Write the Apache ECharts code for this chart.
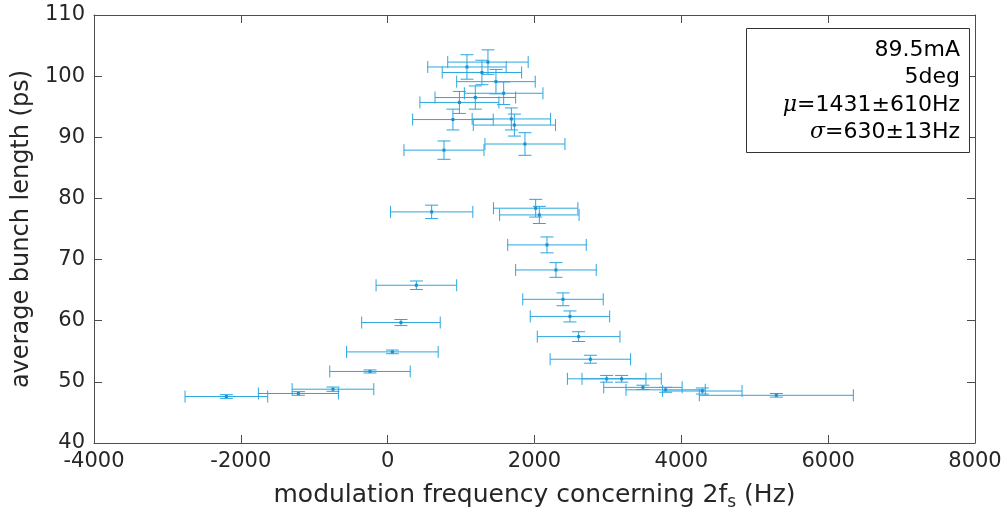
<!DOCTYPE html>
<html>
<head>
<meta charset="utf-8">
<script src="https://cdn.jsdelivr.net/npm/echarts@6/dist/echarts.min.js"></script>
<style>
html,body{margin:0;padding:0;background:#fff;}
#chart{width:1007px;height:518px;}
</style>
</head>
<body>
<div id="chart"></div>
<script>
// modulation frequency (Hz)
var freq = [1366, 1080, 1284, 1475, 1580, 1194, 977, 889, 1685, 1726, 767, 1870,
  599, 2016, 2066, 2170, 2292, 391, 2388, 181, 64, -241, -745, -1216, -2197,
  2483, 2601, 2761, 2983, 3187, 3477, 3786, 4286, 5294];
// average bunch length (ps)
var bunchLength = [102.3, 101.5, 100.6, 99.1, 97.2, 96.5, 95.7, 92.9, 93.0, 92.0, 87.9, 88.9,
  77.8, 78.4, 77.3, 72.4, 68.3, 65.8, 63.5, 59.7, 54.9, 51.7, 48.8, 48.1, 47.6,
  60.7, 57.4, 53.7, 50.5, 50.5, 49.1, 48.7, 48.5, 47.8];
// horizontal error (Hz)
var freqErr = [548, 534, 541, 535, 535, 549, 538, 549, 534, 560, 545, 545,
  561, 575, 541, 535, 549, 549, 548, 535, 624, 548, 556, 545, 563,
  541, 563, 548, 535, 540, 534, 540, 541, 1049];
// vertical error (ps)
var lengthErr = [2.0, 2.0, 2.0, 2.0, 1.85, 1.9, 1.8, 1.7, 1.8, 1.8, 1.5, 1.85,
  1.1, 1.45, 1.4, 1.3, 1.2, 0.7, 1.05, 0.5, 0.3, 0.25, 0.35, 0.3, 0.3,
  0.9, 0.8, 0.65, 0.55, 0.55, 0.35, 0.4, 0.5, 0.3];
var xTicks = {min: -4000, max: 8000, step: 2000};
var yTicks = {min: 40, max: 110, step: 10};
var infoLines = ['89.5mA', '5deg', '{it|μ}=1431±610Hz', '{it|σ}=630±13Hz'];

var COLOR = '#2aa6e0';
var AXC = '#4d4d4d';
var TXT = '#262626';
var FONT = 'DejaVu Sans';

var data = freq.map(function (x, i) { return [x, bunchLength[i], freqErr[i], lengthErr[i]]; });

function renderItem(params, api) {
  var x = api.value(0), y = api.value(1), ex = api.value(2), ey = api.value(3);
  var c = api.coord([x, y]);
  var l = api.coord([x - ex, y]);
  var r = api.coord([x + ex, y]);
  var t = api.coord([x, y + ey]);
  var b = api.coord([x, y - ey]);
  var capH = 6, capW = 6.5;
  var st = {stroke: COLOR, lineWidth: 1, fill: null};
  function line(x1, y1, x2, y2) {
    return {type: 'line', shape: {x1: x1, y1: y1, x2: x2, y2: y2}, style: st};
  }
  return {
    type: 'group',
    children: [
      line(l[0], c[1], r[0], c[1]),
      line(l[0], c[1] - capH, l[0], c[1] + capH),
      line(r[0], c[1] - capH, r[0], c[1] + capH),
      line(c[0], t[1], c[0], b[1]),
      line(c[0] - capW, t[1], c[0] + capW, t[1]),
      line(c[0] - capW, b[1], c[0] + capW, b[1]),
      {type: 'rect', shape: {x: c[0] - 1.5, y: c[1] - 1.5, width: 3, height: 3}, style: {fill: '#1a8fd0'}}
    ]
  };
}

var chart = echarts.init(document.getElementById('chart'), null, {renderer: 'canvas'});

var baseAxis = {
  type: 'value',
  axisLine: {show: true, onZero: false, lineStyle: {color: AXC, width: 1}},
  axisTick: {show: true, inside: true, length: 8, lineStyle: {color: AXC}},
  splitLine: {show: false}
};
function plain(v) { return String(v); }

var graphics = [{
  type: 'rect',
  shape: {x: 746.5, y: 28.5, width: 223, height: 124},
  style: {fill: '#fff', stroke: '#333', lineWidth: 1},
  z: 100
}];
infoLines.forEach(function (s, i) {
  graphics.push({
    type: 'text',
    x: 960, y: 50 + i * 27.5,
    style: {
      text: s, align: 'right', verticalAlign: 'middle',
      font: '22px "DejaVu Sans"', fill: '#000',
      rich: {it: {fontStyle: 'italic', fontSize: 22, fontFamily: 'DejaVu Serif'}}
    },
    z: 101
  });
});

chart.setOption({
  animation: false,
  backgroundColor: '#fff',
  grid: {left: 94, right: 32, top: 15, bottom: 75, containLabel: false},
  xAxis: [
    Object.assign({}, baseAxis, {
      min: xTicks.min, max: xTicks.max, interval: xTicks.step, position: 'bottom',
      axisLabel: {color: TXT, fontSize: 21, fontFamily: FONT, margin: 8, formatter: plain},
      name: 'modulation frequency concerning 2f{sub|s} (Hz)',
      nameLocation: 'middle', nameGap: 36,
      nameTextStyle: {color: TXT, fontSize: 25, fontFamily: FONT,
        rich: {sub: {fontSize: 17, fontFamily: FONT, color: TXT, padding: [15, 0, 0, 0]}}}
    }),
    Object.assign({}, baseAxis, {
      min: xTicks.min, max: xTicks.max, interval: xTicks.step, position: 'top',
      axisLabel: {show: false}
    })
  ],
  yAxis: [
    Object.assign({}, baseAxis, {
      min: yTicks.min, max: yTicks.max, interval: yTicks.step, position: 'left',
      axisLabel: {color: TXT, fontSize: 21, fontFamily: FONT, margin: 9, formatter: plain},
      name: 'average bunch length (ps)',
      nameLocation: 'middle', nameGap: 59, nameRotate: 90,
      nameTextStyle: {color: TXT, fontSize: 24, fontFamily: FONT}
    }),
    Object.assign({}, baseAxis, {
      min: yTicks.min, max: yTicks.max, interval: yTicks.step, position: 'right',
      axisLabel: {show: false}
    })
  ],
  series: [{
    type: 'custom',
    renderItem: renderItem,
    data: data,
    encode: {x: 0, y: 1},
    clip: false
  }],
  graphic: graphics
});
</script>
</body>
</html>
